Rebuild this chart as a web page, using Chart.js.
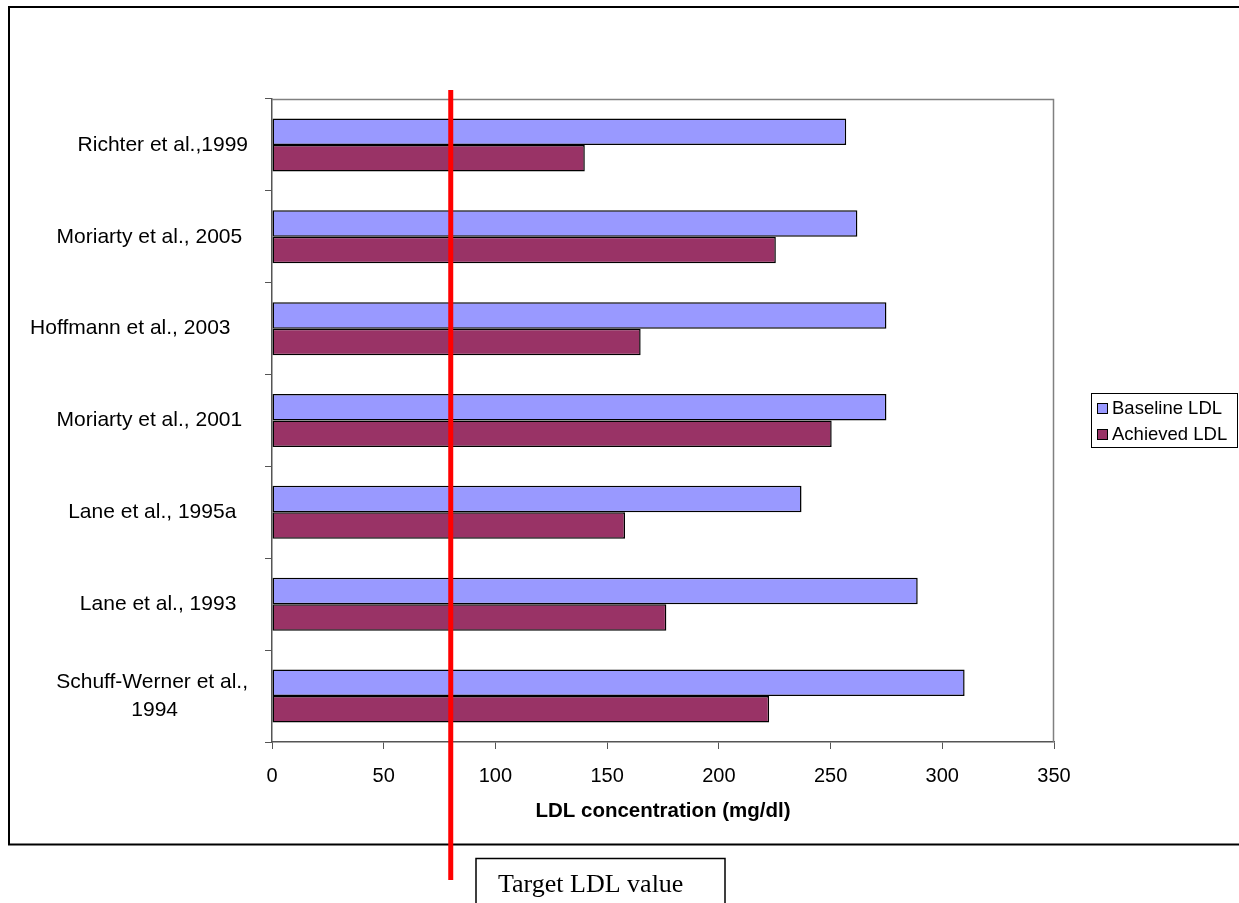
<!DOCTYPE html>
<html>
<head>
<meta charset="utf-8">
<title>LDL concentration</title>
<script src="https://cdn.jsdelivr.net/npm/chart.js@4.4.1/dist/chart.umd.min.js"></script>
<style>
  html, body { margin: 0; padding: 0; background: #fff; }
  #wrap { width: 1239px; height: 903px; overflow: hidden; }
</style>
</head>
<body>
<div id="wrap"><canvas id="ldl" width="1239" height="903"></canvas></div>
<script>
// data ===============================================================================================
// some labels carry trailing spaces, like the original sheet
var studies = [
    'Richter et al.,1999',
    'Moriarty et al., 2005 ',
    'Hoffmann et al., 2003   ',
    'Moriarty et al., 2001 ',
    'Lane et al., 1995a  ',
    'Lane et al., 1993  ',
    ['Schuff-Werner et al.,', '1994            ']
];
var baselineLDL = [257, 262, 275, 275, 237, 289, 310];
var achievedLDL = [140, 225.5, 165, 250.5, 158, 176.5, 222.5];
var seriesNames = ['Baseline LDL', 'Achieved LDL'];
var targetLDL = 80;
var targetText = 'Target LDL value';
var axisTitle = 'LDL concentration (mg/dl)';
//====================================================================================================

var sans = '"Liberation Sans", Arial, sans-serif';
var blue = '#9999FF', maroon = '#993366';

// frame, plot border, legend, target line and label ===================================================
var decorations = {
    id: 'decorations',
    afterDraw: function (chart) {
        var c = chart.ctx, a = chart.chartArea;
        c.save();

        // outer chart frame
        c.strokeStyle = '#000';
        c.lineWidth = 2;
        c.strokeRect(9, 7, 1245, 837.5);

        // top / right plot border
        c.strokeStyle = '#808080';
        c.lineWidth = 1.5;
        c.beginPath();
        c.moveTo(a.left, a.top + 0.5);
        c.lineTo(a.right - 0.5, a.top + 0.5);
        c.lineTo(a.right - 0.5, a.bottom);
        c.stroke();

        // legend
        var lx = 1091, ly = 393, lw = 146, lh = 54;
        c.fillStyle = '#fff';
        c.fillRect(lx, ly, lw, lh);
        c.strokeStyle = '#000';
        c.lineWidth = 1;
        c.strokeRect(lx + 0.5, ly + 0.5, lw, lh);
        var cols = [blue, maroon];
        c.font = '18.5px ' + sans;
        c.textBaseline = 'middle';
        c.textAlign = 'left';
        for (var i = 0; i < seriesNames.length; i++) {
            var sy = 403 + i * 26;
            c.fillStyle = cols[i];
            c.fillRect(1097, sy, 11, 11);
            c.strokeStyle = '#000';
            c.strokeRect(1097.5, sy + 0.5, 10, 10);
            c.fillStyle = '#000';
            c.fillText(seriesNames[i], 1112, sy + 6);
        }

        // target line
        var tx = chart.scales.x.getPixelForValue(targetLDL);
        c.strokeStyle = '#FF0000';
        c.lineWidth = 5;
        c.beginPath();
        c.moveTo(tx, 90);
        c.lineTo(tx, 880);
        c.stroke();

        // target label box
        c.fillStyle = '#fff';
        c.fillRect(476, 858, 249, 60);
        c.strokeStyle = '#000';
        c.lineWidth = 1.5;
        c.strokeRect(476, 858.5, 249, 60);
        c.fillStyle = '#000';
        c.font = '26px "Liberation Serif", "Times New Roman", serif';
        c.textBaseline = 'alphabetic';
        c.fillText(targetText, 498, 892);

        c.restore();
    }
};

var chart = new Chart(document.getElementById('ldl').getContext('2d'), {
    type: 'bar',
    data: {
        labels: studies,
        datasets: [
            {
                label: seriesNames[0],
                data: baselineLDL,
                backgroundColor: blue,
                borderColor: '#000',
                borderWidth: 1.5,
                borderSkipped: false,
                barPercentage: 1,
                categoryPercentage: 0.577
            },
            {
                label: seriesNames[1],
                data: achievedLDL,
                backgroundColor: maroon,
                borderColor: '#000',
                borderWidth: 1.5,
                borderSkipped: false,
                barPercentage: 1,
                categoryPercentage: 0.577
            }
        ]
    },
    options: {
        indexAxis: 'y',
        responsive: false,
        animation: false,
        layout: { padding: { top: 99, right: 185, bottom: 77, left: 0 } },
        plugins: {
            legend: { display: false },
            tooltip: { enabled: false }
        },
        scales: {
            x: {
                min: 0,
                max: 350,
                ticks: { stepSize: 50, color: '#000', padding: 15, font: { family: sans, size: 20 } },
                grid: { drawOnChartArea: false, tickLength: 7, color: '#555' },
                border: { color: '#555', width: 1.5 },
                title: {
                    display: true,
                    text: axisTitle,
                    color: '#000',
                    font: { family: sans, size: 20.5, weight: 'bold' },
                    padding: { top: 4, bottom: 2 }
                },
                afterFit: function (s) { s.height = 84; }
            },
            y: {
                ticks: { color: '#000', padding: 17, font: { family: sans, size: 21, lineHeight: 1.33 } },
                grid: { drawOnChartArea: false, tickLength: 7, color: '#555', offset: true },
                border: { color: '#555', width: 1.5 },
                afterFit: function (s) { s.width = 272; }
            }
        }
    },
    plugins: [decorations]
});
</script>
</body>
</html>
